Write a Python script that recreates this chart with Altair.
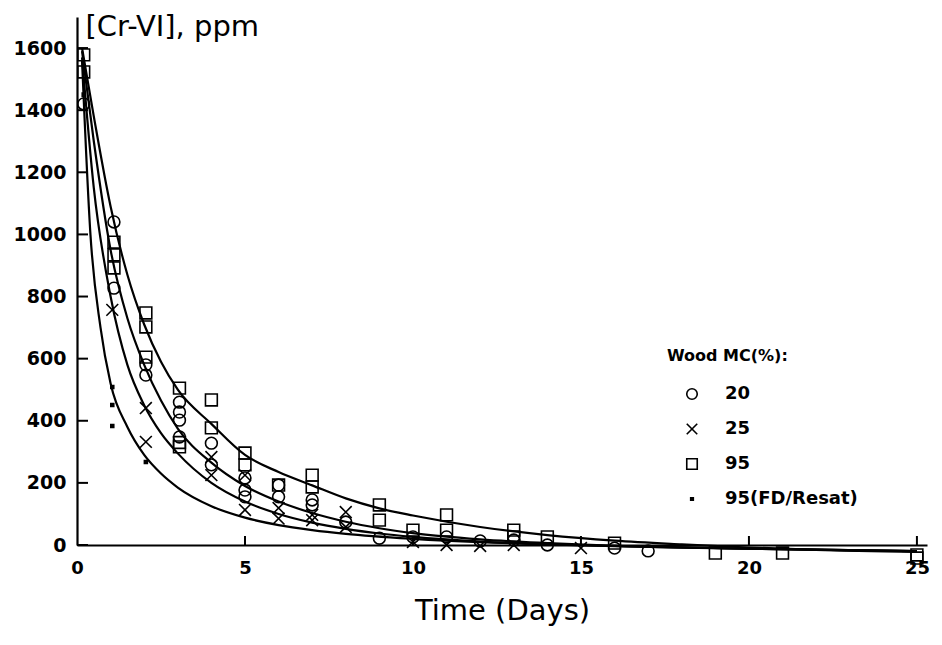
import altair as alt
import pandas as pd

series_names = ["20", "25", "95", "95(FD/Resat)"]

# observed points (Time in days, [Cr-VI] ppm)
c20_t = [0.2, 1.1, 1.1, 2.05, 2.05, 3.05, 3.05, 3.05, 3.05, 4, 4, 5, 5, 5, 6, 6, 7, 7, 8, 9, 10, 11, 12, 13, 14, 16, 17]
c20_v = [1420, 1040, 827, 580, 547, 460, 428, 402, 348, 328, 258, 216, 177, 155, 193, 155, 145, 129, 74, 22, 26, 26, 13, 16, 0, -10, -19]

c25_t = [1.05, 2.05, 2.05, 4, 4, 5, 5, 6, 6, 7, 7, 8, 8, 10, 11, 12, 13, 15]
c25_v = [757, 441, 332, 283, 225, 225, 113, 119, 85, 97, 80, 106, 58, 10, 0, -3, 0, -10]

c95_t = [0.2, 0.2, 1.1, 1.1, 1.1, 2.05, 2.05, 2.05, 3.05, 3.05, 3.05, 4, 4, 5, 5, 6, 7, 7, 9, 9, 10, 11, 11, 13, 13, 14, 16, 19, 21, 25, 25]
c95_v = [1578, 1523, 975, 934, 892, 747, 702, 605, 505, 330, 316, 467, 377, 296, 258, 193, 225, 187, 129, 80, 48, 97, 48, 48, 26, 26, 6, -26, -26, -32, -42]

cfd_t = [0.2, 1.05, 1.05, 1.05, 2.05]
cfd_v = [1450, 509, 451, 383, 267]

# fitted curves
fit20_t = [0.15, 0.5, 1, 1.5, 2, 2.5, 3, 4, 5, 6, 7, 8, 9, 10, 12, 14, 16, 20, 25]
fit20_v = [1590, 1300, 950, 730, 580, 465, 375, 265, 190, 140, 103, 75, 54, 38, 18, 6, -3, -12, -20]

fit25_t = [0.15, 0.5, 1, 1.5, 2, 2.5, 3, 4, 5, 6, 7, 8, 9, 10, 12, 14, 16, 20, 25]
fit25_v = [1570, 1150, 800, 580, 450, 360, 295, 200, 140, 100, 72, 52, 37, 26, 11, 2, -4, -12, -20]

fit95_t = [0.15, 0.5, 1, 1.5, 2, 2.5, 3, 4, 5, 6, 7, 8, 9, 10, 12, 14, 16, 18, 20, 22, 25]
fit95_v = [1600, 1380, 1090, 870, 710, 590, 500, 390, 290, 235, 192, 150, 118, 95, 58, 32, 14, 2, -8, -16, -22]

fitfd_t = [0.15, 0.4, 0.7, 1, 1.5, 2, 2.5, 3, 4, 5, 6, 7, 8, 10, 12, 14, 16, 20, 25]
fitfd_v = [1560, 1000, 700, 520, 380, 290, 230, 185, 125, 88, 64, 48, 36, 20, 9, 2, -3, -12, -20]

y_ticks = [0, 200, 400, 600, 800, 1000, 1200, 1400, 1600]
x_ticks = [0, 5, 10, 15, 20, 25]

pts = pd.concat([
    pd.DataFrame({"t": c20_t, "v": c20_v, "s": series_names[0]}),
    pd.DataFrame({"t": c25_t, "v": c25_v, "s": series_names[1]}),
    pd.DataFrame({"t": c95_t, "v": c95_v, "s": series_names[2]}),
    pd.DataFrame({"t": cfd_t, "v": cfd_v, "s": series_names[3]}),
])
fits = pd.concat([
    pd.DataFrame({"t": fit20_t, "v": fit20_v, "s": "a"}),
    pd.DataFrame({"t": fit25_t, "v": fit25_v, "s": "b"}),
    pd.DataFrame({"t": fit95_t, "v": fit95_v, "s": "c"}),
    pd.DataFrame({"t": fitfd_t, "v": fitfd_v, "s": "d"}),
])

W, H = 850, 528
FONT = "DejaVu Sans"

xs = alt.Scale(domain=[0, 25.3], nice=False, zero=False)
ys = alt.Scale(domain=[0, 1700], nice=False)

x_axis = alt.Axis(values=x_ticks, ticks=False, grid=False, domainColor="black", domainWidth=2.2,
                  labelFont=FONT, labelFontWeight="bold", labelFontSize=18, labelColor="black",
                  labelPadding=14, title="Time (Days)", titleFont=FONT, titleFontSize=29,
                  titleFontWeight="normal", titleColor="black", titlePadding=19, labelFlush=False,
                  format="d")
y_axis = alt.Axis(values=y_ticks, ticks=False, grid=False, domainColor="black", domainWidth=2.2,
                  labelFont=FONT, labelFontWeight="bold", labelFontSize=19, labelColor="black",
                  labelPadding=11, title="[Cr-VI], ppm", titleAngle=0, titleAlign="left",
                  titleBaseline="alphabetic", titleX=8, titleY=18, titleFont=FONT, titleFontSize=29,
                  titleFontWeight="normal", titleColor="black", labelFlush=False, format="d")

xpath = "M-1,-1L1,1M-1,1L1,-1"
dotpath = "M-0.25,-0.25H0.25V0.25H-0.25ZM-0.25,-0.1H0.25M-0.25,0.05H0.25M-0.25,0.15H0.25"
leg = alt.Legend(title="Wood MC(%):", orient="none", legendX=590, legendY=331,
                 titleFont=FONT, titleFontSize=16, titleFontWeight="bold", titleColor="black",
                 titlePadding=21, labelFont=FONT, labelFontSize=18, labelFontWeight="bold",
                 labelColor="black", rowPadding=17, symbolOffset=16, labelOffset=24,
                 symbolStrokeColor="black", symbolStrokeWidth=1.6, symbolSize=110,
                 symbolFillColor="transparent")

lines = alt.Chart(fits).mark_line(color="black", strokeWidth=2.2, interpolate="monotone").encode(
    x=alt.X("t:Q", scale=xs, axis=x_axis),
    y=alt.Y("v:Q", scale=ys, axis=y_axis),
    detail="s:N",
)

points = alt.Chart(pts).mark_point(color="black", strokeWidth=1.6, opacity=1, filled=False, size=140).encode(
    x=alt.X("t:Q", scale=xs),
    y=alt.Y("v:Q", scale=ys),
    shape=alt.Shape("s:N", scale=alt.Scale(domain=series_names, range=["circle", xpath, "square", dotpath]), legend=leg),
)

ytick_df = pd.DataFrame({"v": y_ticks})
xtick_df = pd.DataFrame({"t": x_ticks[1:]})
yticks = alt.Chart(ytick_df).mark_rule(color="black", strokeWidth=2).encode(
    y=alt.Y("v:Q", scale=ys), x=alt.value(0), x2=alt.value(11))
xticks = alt.Chart(xtick_df).mark_rule(color="black", strokeWidth=2).encode(
    x=alt.X("t:Q", scale=xs), y=alt.value(H), y2=alt.value(H - 9))

chart = alt.layer(lines, yticks, xticks, points).properties(
    width=W, height=H,
    autosize=alt.AutoSizeParams(type="none"),
    padding={"left": 77, "top": 17, "right": 15, "bottom": 100},
    background="white",
).configure_view(stroke=None)

chart.save("out.html", embed_options={"renderer": "svg", "actions": False})
